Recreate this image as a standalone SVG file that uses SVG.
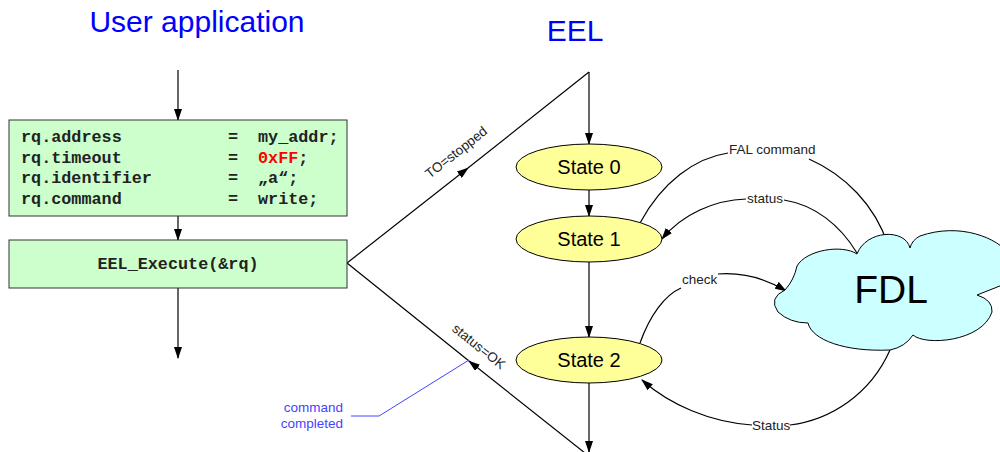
<svg xmlns="http://www.w3.org/2000/svg" width="1000" height="452" viewBox="0 0 1000 452">
<defs>
<marker id="ah" markerWidth="12" markerHeight="8" refX="11" refY="4" orient="auto" markerUnits="userSpaceOnUse">
<path d="M0,0 L12,4 L0,8 Z" fill="#000"/>
</marker>
<style>
.ln{fill:none;stroke:#000;stroke-width:1.2}
.code{font-family:"Liberation Mono","Courier New",monospace;font-weight:bold;font-size:16.8px;fill:#222}
.lbl{font-family:"Liberation Sans",Arial,sans-serif;font-size:13.5px;fill:#222}
.st{font-family:"Liberation Sans",Arial,sans-serif;font-size:20px;fill:#000;text-anchor:middle}
.ttl{font-family:"Liberation Sans",Arial,sans-serif;font-size:30px;fill:#0000ff;text-anchor:middle}
.box{fill:#ccffcc;stroke:#333;stroke-width:1}
.ell{fill:#ffff99;stroke:#000;stroke-width:1}
</style>
</defs>
<rect width="1000" height="452" fill="#fff"/>
<text class="ttl" x="197" y="32">User application</text>
<text class="ttl" x="575" y="41">EEL</text>

<g id="connectors">
<path class="ln" d="M178,70 L178,120" marker-end="url(#ah)"/>
<path class="ln" d="M178,216 L178,240" marker-end="url(#ah)"/>
<path class="ln" d="M178,288 L178,358" marker-end="url(#ah)"/>
<path class="ln" d="M347,263 L468,168" marker-end="url(#ah)"/>
<path class="ln" d="M468,168 L589,72"/>
<path class="ln" d="M589,72 L589,144" marker-end="url(#ah)"/>
<path class="ln" d="M589,190 L589,216" marker-end="url(#ah)"/>
<path class="ln" d="M589,262 L589,337" marker-end="url(#ah)"/>
<path class="ln" d="M589,383 L589,452" marker-end="url(#ah)"/>
<path class="ln" d="M590,457 L469,361" marker-end="url(#ah)"/>
<path class="ln" d="M469,361 L347,263"/>
<path class="ln" d="M640,223 C662,182 695,158 728,153"/>
<path class="ln" d="M809,159 C845,175 875,205 888,245" marker-end="url(#ah)"/>
<path class="ln" d="M857,253 C840,225 815,205 784,200"/>
<path class="ln" d="M746,199 C715,200 682,214 662,239" marker-end="url(#ah)"/>
<path class="ln" d="M640,343 C650,315 665,295 681,288"/>
<path class="ln" d="M718,274 C745,272 768,280 786,291" marker-end="url(#ah)"/>
<path class="ln" d="M890,350 C870,395 830,420 790,425"/>
<path class="ln" d="M752,425 C710,422 670,405 642,380" marker-end="url(#ah)"/>
<path d="M351,416 L379,416 L469,360" fill="none" stroke="#4444ff" stroke-width="1"/>
<text class="lbl" transform="translate(459,156) rotate(-38.3)" text-anchor="middle">TO=stopped</text>
<text class="lbl" transform="translate(476,350) rotate(38.5)" text-anchor="middle">status=OK</text>
<text class="lbl" x="729" y="154">FAL command</text>
<text class="lbl" x="747" y="203">status</text>
<text class="lbl" x="682" y="284">check</text>
<text class="lbl" x="752" y="430">Status</text>
</g>

<g id="request">
<rect class="box" x="9" y="120" width="338" height="96"/>
<text class="code" x="21" y="142">rq.address</text>
<text class="code" x="21" y="162.5">rq.timeout</text>
<text class="code" x="21" y="183">rq.identifier</text>
<text class="code" x="21" y="203.5">rq.command</text>
<text class="code" x="228" y="142">=</text>
<text class="code" x="228" y="162.5">=</text>
<text class="code" x="228" y="183">=</text>
<text class="code" x="228" y="203.5">=</text>
<text class="code" x="258" y="142">my_addr;</text>
<text class="code" x="258" y="162.5"><tspan fill="#ff0000">0xFF</tspan>;</text>
<text class="code" x="258" y="183">„a“;</text>
<text class="code" x="258" y="203.5">write;</text>
</g>

<g id="execute">
<rect class="box" x="9" y="240" width="338" height="48"/>
<text class="code" x="178" y="269" text-anchor="middle">EEL_Execute(&amp;rq)</text>
</g>

<g id="state0">
<ellipse class="ell" cx="589" cy="167" rx="73" ry="23"/>
<text class="st" x="589" y="174">State 0</text>
</g>
<g id="state1">
<ellipse class="ell" cx="589" cy="239" rx="73" ry="23"/>
<text class="st" x="589" y="246">State 1</text>
</g>
<g id="state2">
<ellipse class="ell" cx="589" cy="360" rx="73" ry="23"/>
<text class="st" x="589" y="367">State 2</text>
</g>

<g id="fdl">
<path d="M785,290 Q768,298 778,312 Q790,323 808,323 C812,340 845,352 890,350 Q905,347 913,335 C925,346 982,342 992,312 Q993,300 977,295 L1010,282 L1010,255 C998,238 960,222 920,236 Q912,240 910,248 C905,228 866,230 857,254 C842,244 806,250 797,266 Q794,280 785,290 Z" fill="#ccffff" stroke="#000" stroke-width="1"/>
<text x="891" y="303" text-anchor="middle" font-family="Liberation Sans, Arial, sans-serif" font-size="39" fill="#000">FDL</text>
</g>

<g id="note">
<text class="lbl" x="343" y="412" text-anchor="end" style="fill:#4444ff">command</text>
<text class="lbl" x="343" y="428" text-anchor="end" style="fill:#4444ff">completed</text>
</g>
</svg>
